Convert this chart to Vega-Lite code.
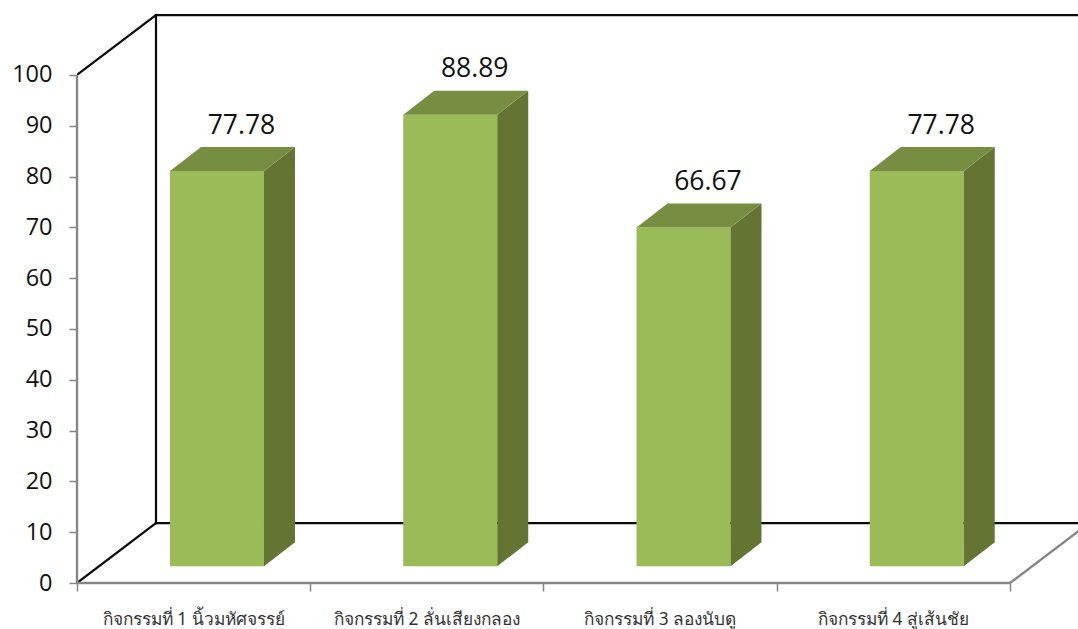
{
  "$schema": "https://vega.github.io/schema/vega-lite/v6.json",
  "width": 1001,
  "height": 583,
  "padding": {"left": 77, "top": 0, "right": 0, "bottom": 46},
  "autosize": {"type": "none"},
  "background": "white",
  "config": {"view": {"stroke": null}},
  "datasets": {
    "activities": [
      {"activity": "กิจกรรมที่ 1 นิ้วมหัศจรรย์", "slot": 0, "score": 77.78},
      {"activity": "กิจกรรมที่ 2 ลั่นเสียงกลอง", "slot": 1, "score": 88.89},
      {"activity": "กิจกรรมที่ 3 ลองนับดู", "slot": 2, "score": 66.67},
      {"activity": "กิจกรรมที่ 4 สู่เส้นชัย", "slot": 3, "score": 77.78}
    ],
    "wallEdges": [
      {"s0": 0, "v0": 0, "d0": 1, "s1": 0, "v1": 100, "d1": 1},
      {"s0": 0, "v0": 0, "d0": 1, "s1": 5, "v1": 0, "d1": 1},
      {"s0": 0, "v0": 100, "d0": 1, "s1": 5, "v1": 100, "d1": 1},
      {"s0": 0, "v0": 0, "d0": 0, "s1": 0, "v1": 0, "d1": 1},
      {"s0": 0, "v0": 100, "d0": 0, "s1": 0, "v1": 100, "d1": 1}
    ],
    "floorEdges": [
      {"s0": 0, "v0": 0, "d0": 0, "s1": 0, "v1": 100, "d1": 0},
      {"s0": 0, "v0": 0, "d0": 0, "s1": 4, "v1": 0, "d1": 0},
      {"s0": 4, "v0": 0, "d0": 0, "s1": 4, "v1": 0, "d1": 1}
    ]
  },
  "layer": [
    {
      "data": {"name": "wallEdges"},
      "transform": [
        {"calculate": "datum.s0 + datum.d0 * 0.3387", "as": "xa"},
        {"calculate": "datum.s1 + datum.d1 * 0.3387", "as": "xb"},
        {"calculate": "datum.v0 + datum.d0 * 11.8", "as": "ya"},
        {"calculate": "datum.v1 + datum.d1 * 11.8", "as": "yb"}
      ],
      "mark": {"type": "rule", "stroke": "#0a0a0a", "strokeWidth": 2.2, "strokeCap": "square", "clip": true},
      "encoding": {
        "x": {
          "field": "xa", "type": "quantitative", "title": null,
          "scale": {"domain": [0, 4.2916], "nice": false, "zero": false},
          "axis": {"values": [0, 1, 2, 3, 4], "labels": false, "domain": false, "grid": false, "tickSize": 8, "tickColor": "#868686", "tickWidth": 1.5}
        },
        "x2": {"field": "xb"},
        "y": {
          "field": "ya", "type": "quantitative", "title": null,
          "scale": {"domain": [0, 114.76], "nice": false, "zero": false},
          "axis": {"values": [0, 10, 20, 30, 40, 50, 60, 70, 80, 90, 100], "domain": false, "grid": false, "tickSize": 8, "tickColor": "#868686", "tickWidth": 1.5, "labelFont": "Open Sans", "labelFontSize": 23.5, "labelColor": "#111111", "labelPadding": 17}
        },
        "y2": {"field": "yb"}
      }
    },
    {
      "data": {"name": "floorEdges"},
      "transform": [
        {"calculate": "datum.s0 + datum.d0 * 0.3387", "as": "xa"},
        {"calculate": "datum.s1 + datum.d1 * 0.3387", "as": "xb"},
        {"calculate": "datum.v0 + datum.d0 * 11.8", "as": "ya"},
        {"calculate": "datum.v1 + datum.d1 * 11.8", "as": "yb"}
      ],
      "mark": {"type": "rule", "stroke": "#868686", "strokeWidth": 2.4},
      "encoding": {
        "x": {"field": "xa", "type": "quantitative"},
        "x2": {"field": "xb"},
        "y": {"field": "ya", "type": "quantitative"},
        "y2": {"field": "yb"}
      }
    },
    {
      "data": {"name": "activities"},
      "transform": [
        {"calculate": "datum.slot + 0.3987", "as": "left"},
        {"calculate": "datum.slot + 0.8017", "as": "right"},
        {"calculate": "datum.score + 3.3", "as": "top"},
        {"calculate": "3.3", "as": "base"}
      ],
      "mark": {"type": "rect", "fill": "#9bbb59"},
      "encoding": {
        "x": {"field": "left", "type": "quantitative"},
        "x2": {"field": "right"},
        "y": {"field": "base", "type": "quantitative"},
        "y2": {"field": "top"}
      }
    },
    {
      "data": {"name": "activities"},
      "transform": [
        {"calculate": "[0, 1]", "as": "depth"},
        {"flatten": ["depth"]},
        {"calculate": "datum.slot + 0.8017 + datum.depth * 0.1329", "as": "sx"},
        {"calculate": "3.3 + datum.depth * 4.72", "as": "low"},
        {"calculate": "datum.score + 3.3 + datum.depth * 4.72", "as": "high"}
      ],
      "mark": {"type": "area", "fill": "#647533", "orient": "vertical"},
      "encoding": {
        "x": {"field": "sx", "type": "quantitative"},
        "y": {"field": "low", "type": "quantitative"},
        "y2": {"field": "high"},
        "detail": {"field": "activity"}
      }
    },
    {
      "data": {"name": "activities"},
      "transform": [
        {"calculate": "[0, 1]", "as": "depth"},
        {"flatten": ["depth"]},
        {"calculate": "datum.slot + 0.3987 + datum.depth * 0.1329", "as": "tl"},
        {"calculate": "datum.slot + 0.8017 + datum.depth * 0.1329", "as": "tr"},
        {"calculate": "datum.score + 3.3 + datum.depth * 4.72", "as": "ty"}
      ],
      "mark": {"type": "area", "fill": "#778e42", "orient": "horizontal"},
      "encoding": {
        "y": {"field": "ty", "type": "quantitative"},
        "x": {"field": "tl", "type": "quantitative"},
        "x2": {"field": "tr"},
        "detail": {"field": "activity"}
      }
    },
    {
      "data": {"name": "activities"},
      "transform": [
        {"calculate": "datum.slot + 0.705", "as": "lx"},
        {"calculate": "datum.score + 10.7", "as": "ly"}
      ],
      "mark": {"type": "text", "font": "Open Sans", "fontSize": 26.5, "fill": "#111111", "align": "center", "baseline": "alphabetic"},
      "encoding": {
        "x": {"field": "lx", "type": "quantitative"},
        "y": {"field": "ly", "type": "quantitative"},
        "text": {"field": "score", "type": "quantitative", "format": ".2f"}
      }
    },
    {
      "data": {"name": "activities"},
      "transform": [
        {"calculate": "datum.slot + 0.5", "as": "cx"},
        {"calculate": "0", "as": "floor"}
      ],
      "mark": {"type": "text", "fontSize": 17.3, "fill": "#333333", "align": "center", "baseline": "middle", "dy": 37, "font": "Noto Sans"},
      "encoding": {
        "x": {"field": "cx", "type": "quantitative"},
        "y": {"field": "floor", "type": "quantitative"},
        "text": {"field": "activity"}
      }
    }
  ]
}
